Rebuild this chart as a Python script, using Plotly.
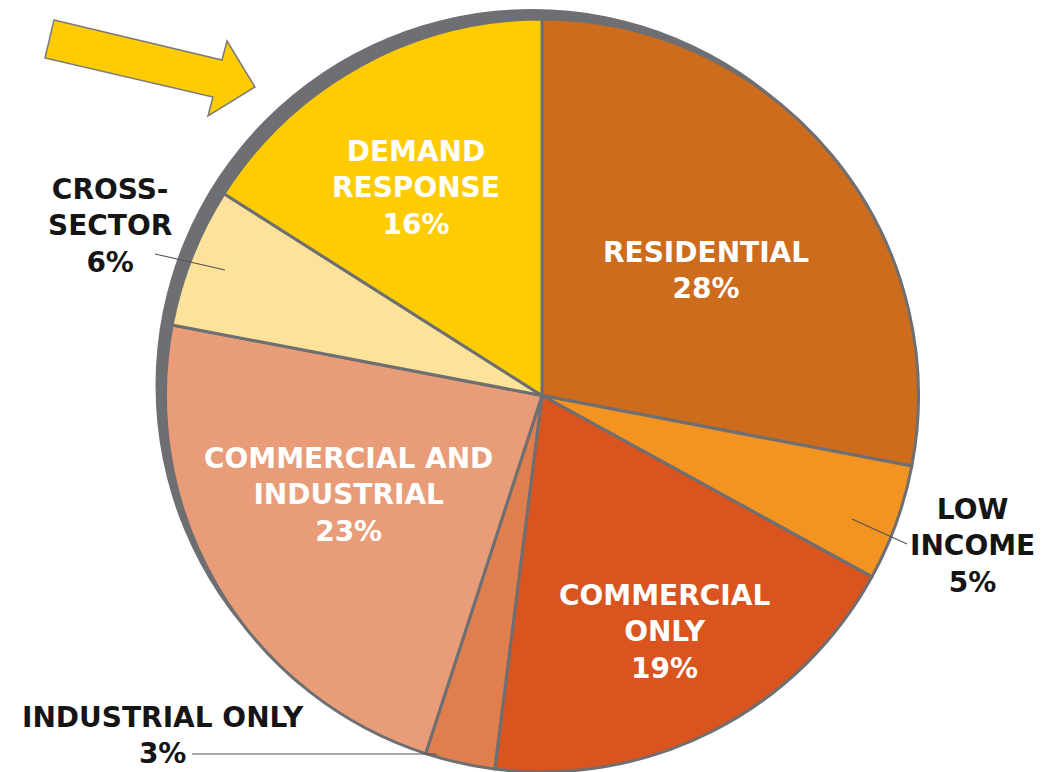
import plotly.graph_objects as go

# ---- data ----
categories = ["Residential", "Low Income", "Commercial Only", "Industrial Only",
              "Commercial and Industrial", "Cross-Sector", "Demand Response"]
shares = [28, 5, 19, 3, 23, 6, 16]
label_names = ["RESIDENTIAL", "LOW<br>INCOME", "COMMERCIAL<br>ONLY", "INDUSTRIAL ONLY",
               "COMMERCIAL AND<br>INDUSTRIAL", "CROSS-<br>SECTOR", "DEMAND<br>RESPONSE"]

# ---- styles ----
colors = ["#CC6C1C", "#F39322", "#D9541E", "#E07E4E", "#E89C78", "#FDE29A", "#FFCC04"]
edge_gray = "#6E6F72"
W, H = 1043, 772

def px(x):
    return x / W

def py(y):
    return 1 - y / H

# pie geometry (pixels)
cx, cy, r = 542, 395.5, 376.5
sx, sy = -10, -10  # offset of grey backing disc

fig = go.Figure()

# grey backing disc (shadow-like rim)
fig.add_trace(go.Pie(
    values=[1], labels=["rim"], marker=dict(colors=[edge_gray], line=dict(width=0)),
    textinfo="none", hoverinfo="skip", showlegend=False, sort=False,
    domain=dict(x=[px(cx + sx - r), px(cx + sx + r)], y=[py(cy + sy + r), py(cy + sy - r)]),
))

fig.add_trace(go.Pie(
    values=shares, labels=categories, sort=False, direction="clockwise", rotation=0,
    marker=dict(colors=colors, line=dict(color=edge_gray, width=3)),
    textinfo="none", showlegend=False,
    domain=dict(x=[px(cx - r), px(cx + r)], y=[max(0, py(cy + r)), py(cy - r)]),
))

# label placement (pixel centres) and colours
label_pos = [(706, 270), (972, 546), (664, 632), (163, 735), (348, 495), (110, 226), (416, 188)]
label_col = ["white", "#151515", "white", "#151515", "white", "#151515", "white"]

annotations = []
for name, s, (x, y), c in zip(label_names, shares, label_pos, label_col):
    annotations.append(dict(
        x=px(x), y=py(y), xref="paper", yref="paper", showarrow=False,
        text=f"{name}<br>{s}%", align="center", xanchor="center", yanchor="middle",
        font=dict(family="DejaVu Sans", size=28, color=c, weight="bold"),
    ))

shapes = []
# leader lines
for (x0, y0, x1, y1) in [(155, 254, 225, 270), (852, 519, 907, 544), (192, 754, 437, 754)]:
    shapes.append(dict(type="line", xref="paper", yref="paper",
                       x0=px(x0), y0=py(y0), x1=px(x1), y1=py(y1),
                       line=dict(color="#555555", width=1.2)))

# arrow
arrow = [(54, 20), (222, 60), (227, 41), (255, 87), (208, 116), (213, 97), (45, 58)]
path = "M " + " L ".join(f"{px(x)},{py(y)}" for x, y in arrow) + " Z"
shapes.append(dict(type="path", xref="paper", yref="paper", path=path,
                   fillcolor="#FFCC04", line=dict(color="#7A7A7A", width=1.5)))

fig.update_layout(
    width=W, height=H, margin=dict(l=0, r=0, t=0, b=0),
    paper_bgcolor="white", plot_bgcolor="white",
    annotations=annotations, shapes=shapes, showlegend=False,
)

fig.write_html("out.html")
